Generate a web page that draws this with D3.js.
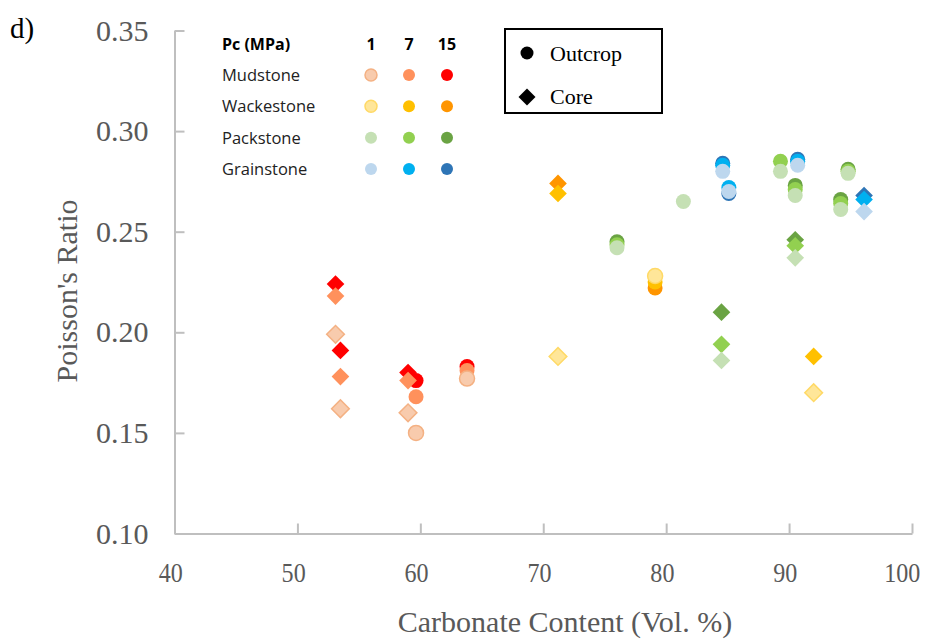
<!DOCTYPE html>
<html>
<head>
<meta charset="utf-8">
<script src="https://cdn.jsdelivr.net/npm/d3@7"></script>
<style>
  body { margin: 0; background: #fff; }
  #chart svg { display: block; }
</style>
</head>
<body>
<div id="chart"></div>
<script>
// samples: carbonate content, rock type, shape (outcrop / core), poisson's ratio at 1, 7, 15 MPa
const carbonate = [53.1, 53.5, 59.0, 59.65, 63.8, 71.2, 79.1, 92.0, 76.0, 81.4, 89.3, 90.5, 94.8, 94.2, 90.5, 84.5, 84.6, 85.1, 90.7, 96.1];
const rockType = ["Mudstone", "Mudstone", "Mudstone", "Mudstone", "Mudstone",
    "Wackestone", "Wackestone", "Wackestone",
    "Packstone", "Packstone", "Packstone", "Packstone", "Packstone", "Packstone", "Packstone", "Packstone",
    "Grainstone", "Grainstone", "Grainstone", "Grainstone"];
const source = ["Core", "Core", "Core", "Outcrop", "Outcrop", "Core", "Outcrop", "Core",
    "Outcrop", "Outcrop", "Outcrop", "Outcrop", "Outcrop", "Outcrop", "Core", "Core",
    "Outcrop", "Outcrop", "Outcrop", "Core"];
const pr1 = [0.199, 0.162, 0.160, 0.150, 0.177, 0.188, 0.228, 0.170, 0.242, 0.265, 0.280, 0.268, 0.279, 0.261, 0.237, 0.186, 0.280, 0.270, 0.283, 0.260];
const pr7 = [0.218, 0.178, 0.176, 0.168, 0.181, 0.269, 0.225, 0.188, 0.2435, null, 0.285, 0.271, 0.280, 0.264, 0.243, 0.194, 0.283, 0.272, 0.285, 0.266];
const pr15 = [0.224, 0.191, 0.180, 0.176, 0.183, 0.274, 0.222, null, 0.245, null, null, 0.273, 0.281, 0.266, 0.246, 0.210, 0.284, 0.269, 0.286, 0.268];

const rockTypes = ["Mudstone", "Wackestone", "Packstone", "Grainstone"];
const pressures = ["1", "7", "15"];
const xTicks = [40, 50, 60, 70, 80, 90, 100];
const yTicks = [0.10, 0.15, 0.20, 0.25, 0.30, 0.35];

const fills = {
    Mudstone:   ["#F8CBAD", "#FF915C", "#FF0000"],
    Wackestone: ["#FFE699", "#FFC000", "#FF9500"],
    Packstone:  ["#C5E0B4", "#92D050", "#6AA343"],
    Grainstone: ["#BDD7EE", "#00B0F0", "#2E75B6"]
};
const strokes = {
    Mudstone:   ["#F4B183", "none", "none"],
    Wackestone: ["#FFD966", "none", "none"],
    Packstone:  ["none", "none", "none"],
    Grainstone: ["none", "none", "none"]
};

let svg = d3.select("#chart").append("svg")
    .attr("width", 926)
    .attr("height", 641);

let x = d3.scaleLinear().domain([40, 100]).range([174.5, 912]);
let y = d3.scaleLinear().domain([0.10, 0.35]).range([533.5, 30.5]);

// axes
let yAxis = svg.append("g")
    .attr("transform", "translate(" + x(40) + ",0)")
    .call(d3.axisLeft(y).tickValues(yTicks).tickFormat(d3.format(".2f"))
        .tickSize(-10).tickSizeOuter(0).tickPadding(26));

let xAxis = svg.append("g")
    .attr("transform", "translate(0," + y(0.10) + ")")
    .call(d3.axisBottom(x).tickValues(xTicks).tickFormat(d3.format("d"))
        .tickSize(-10).tickSizeOuter(0).tickPadding(29));

[xAxis, yAxis].forEach(ax => {
    ax.select(".domain").attr("stroke", "#BFBFBF").attr("stroke-width", 2);
    ax.selectAll(".tick line").attr("stroke", "#BFBFBF").attr("stroke-width", 2);
    ax.selectAll(".tick text")
        .attr("fill", "#595959")
        .style("font-family", "'Liberation Serif', 'Times New Roman', serif");
});
yAxis.selectAll(".tick text").style("font-size", "30px");
// x labels look narrow in the original, squeeze them a bit
xAxis.selectAll(".tick text")
    .style("font-size", "28px")
    .attr("dx", d => d === 100 ? -12 : -5)
    .attr("transform", "scale(0.86,1)");

// axis titles
svg.append("text")
    .attr("x", 565)
    .attr("y", 632)
    .attr("text-anchor", "middle")
    .attr("fill", "#595959")
    .style("font-family", "'Liberation Serif', serif")
    .style("font-size", "30px")
    .text("Carbonate Content (Vol. %)");

svg.append("text")
    .attr("transform", "translate(77,291) rotate(-90)")
    .attr("text-anchor", "middle")
    .attr("fill", "#595959")
    .style("font-family", "'Liberation Serif', serif")
    .style("font-size", "30px")
    .text("Poisson's Ratio");

svg.append("text")
    .attr("x", 10)
    .attr("y", 38)
    .attr("fill", "#000")
    .style("font-family", "'Liberation Serif', serif")
    .style("font-size", "29px")
    .text("d)");

// points: one entry per sample and pressure, drawn high pressure first
let points = [];
[2, 1, 0].forEach(p => {
    let vals = [pr1, pr7, pr15][p];
    carbonate.forEach((c, i) => {
        if (vals[i] == null) return;
        points.push({ c: c, v: vals[i], rock: rockType[i], src: source[i], p: p });
    });
});

let circleSym = d3.symbol().type(d3.symbolCircle).size(Math.PI * 7.5 * 7.5);
let diamondSym = d3.symbol().type(d3.symbolSquare).size(12.5 * 12.5);

svg.append("g").selectAll("path")
    .data(points)
    .enter().append("path")
    .attr("d", d => d.src === "Core" ? diamondSym() : circleSym())
    .attr("transform", d => "translate(" + x(d.c) + "," + y(d.v) + ")" + (d.src === "Core" ? " rotate(45)" : ""))
    .attr("fill", d => fills[d.rock][d.p])
    .attr("stroke", d => strokes[d.rock][d.p])
    .attr("stroke-width", 1.5);

// pressure legend
let leg = svg.append("g").style("font-family", "'Open Sans', sans-serif");
let colX = [371, 409, 447];
let rowY = d3.scalePoint().domain(rockTypes).range([75, 169]);

leg.append("text")
    .attr("x", 222).attr("y", 50)
    .style("font-size", "16px").style("font-weight", "bold")
    .text("Pc (MPa)");
leg.selectAll(".ph")
    .data(pressures)
    .enter().append("text")
    .attr("class", "ph")
    .attr("x", (d, i) => colX[i]).attr("y", 50)
    .attr("text-anchor", "middle")
    .style("font-size", "16px").style("font-weight", "bold")
    .text(d => d);

rockTypes.forEach(r => {
    leg.append("text")
        .attr("x", 222).attr("y", rowY(r) + 6)
        .attr("fill", "#222")
        .style("font-size", "16.5px")
        .text(r);
    pressures.forEach((p, i) => {
        leg.append("circle")
            .attr("cx", colX[i]).attr("cy", rowY(r))
            .attr("r", 6)
            .attr("fill", fills[r][i])
            .attr("stroke", strokes[r][i])
            .attr("stroke-width", 1.5);
    });
});

// shape legend
let box = svg.append("g");
box.append("rect")
    .attr("x", 505).attr("y", 29)
    .attr("width", 157).attr("height", 84)
    .attr("fill", "#fff")
    .attr("stroke", "#000")
    .attr("stroke-width", 2);
box.append("circle")
    .attr("cx", 527).attr("cy", 53).attr("r", 6.5)
    .attr("fill", "#000");
box.append("path")
    .attr("d", d3.symbol().type(d3.symbolSquare).size(12 * 12)())
    .attr("transform", "translate(527,97) rotate(45)")
    .attr("fill", "#000");
box.selectAll(".shp")
    .data(["Outcrop", "Core"])
    .enter().append("text")
    .attr("x", 550)
    .attr("y", (d, i) => i === 0 ? 61 : 104)
    .style("font-family", "'Liberation Serif', serif")
    .style("font-size", "22px")
    .text(d => d);
</script>
</body>
</html>
